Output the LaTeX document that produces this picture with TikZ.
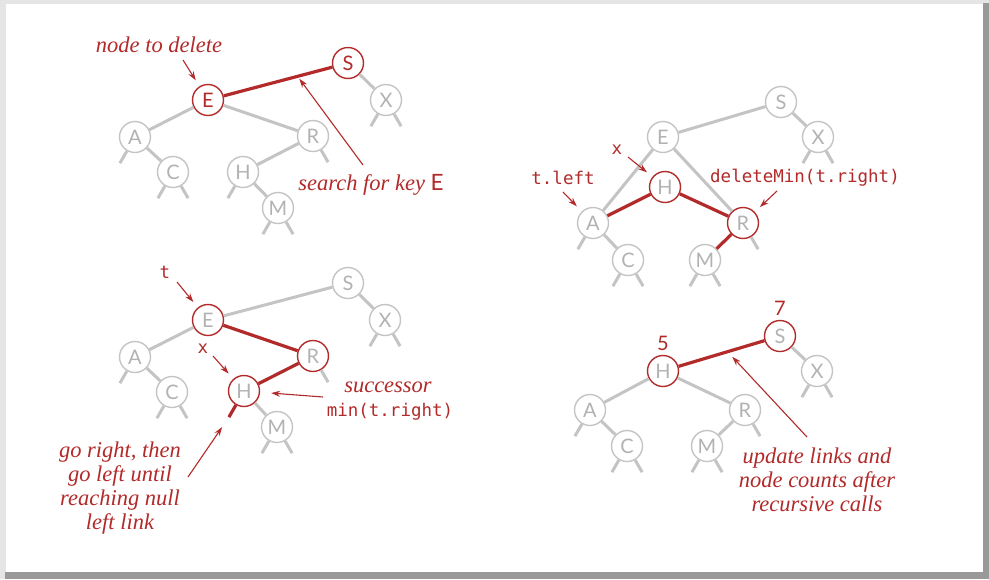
\documentclass[tikz,border=0pt]{standalone}
\usepackage{fontspec}
\setmainfont{Liberation Serif}
\setsansfont{Lato}
\setmonofont{DejaVu Sans Mono}
\usepackage{tikz}
\usetikzlibrary{arrows.meta}
\definecolor{hitred}{RGB}{178,42,42}
\definecolor{linkgray}{RGB}{196,196,196}
\definecolor{keygray}{RGB}{178,178,178}
\newcommand{\nilleft}[2][link]{\draw[#1] (#2.-120) -- ++(-120:14);}
\newcommand{\nilright}[2][link]{\draw[#1] (#2.-60) -- ++(-60:14);}

\begin{document}
\begin{tikzpicture}[x=1pt,y=1pt,
  key/.style={circle,draw=linkgray,line width=1.4pt,fill=white,minimum size=31pt,inner sep=0pt,text=keygray,font=\sffamily\fontsize{20}{20}\selectfont},
  hitkey/.style={key,draw=hitred},
  link/.style={linkgray,line width=3pt},
  hitlink/.style={hitred,line width=3.2pt},
  note/.style={text=hitred,font=\itshape\fontsize{22.5}{24}\selectfont,align=center,inner sep=0pt},
  code/.style={text=hitred,font=\ttfamily\fontsize{17.5}{20}\selectfont,inner sep=0pt},
  count/.style={text=hitred,font=\sffamily\fontsize{20}{20}\selectfont,inner sep=0pt},
  pointer/.style={hitred,line width=1.1pt,-{Stealth[length=9pt,width=6pt]},shorten >=7pt}]

% Frame with shadow
\fill[black!10] (0,0) rectangle (989,-579);
\fill[black!40] (983,-3) rectangle (989,-579);
\fill[black!40] (5,-572) rectangle (989,-579);
\fill[white] (6,-4) rectangle (983,-572);
\useasboundingbox (0,0) rectangle (989,-579);

% === Tree 1: search for the node to delete ===
\foreach \k/\x/\y in {A/135/137,C/173/172,H/243/172,M/278/208,R/313/136,X/386/100}
    \node[key] (t1\k) at (\x,-\y) {\k};
\node[hitkey,text=hitred] (t1E) at (208,-100) {E};
\node[hitkey,text=hitred] (t1S) at (348,-63) {S};
\foreach \a/\b in {E/A,E/R,A/C,R/H,H/M,S/X}
    \draw[link] (t1\a) -- (t1\b);
\draw[hitlink] (t1E) -- (t1S);
\foreach \k in {A,C,H,M,X} \nilleft{t1\k};
\foreach \k in {C,M,R,X} \nilright{t1\k};

\node[note] (del) at (159,-45) {node to delete};
\coordinate (delTail) at (183,-60);
\draw[pointer] (delTail) -- (t1E);
\node[note] (srch) at (371,-185) {search for key \textsf{\upshape E}};
\path (t1E) -- (t1S) coordinate[pos=0.68] (srchHit);
\coordinate (srchTail) at (363,-165);
\draw[pointer,shorten >=3pt] (srchTail) -- (srchHit);

% === Tree 2: t.left and deleteMin(t.right) ===
\foreach \k/\x/\y in {S/781/102,E/663/137,X/818/137,A/593/223,C/628/260,M/705/260}
    \node[key] (t2\k) at (\x,-\y) {\k};
\node[hitkey] (t2H) at (665,-187) {H};
\node[hitkey] (t2R) at (743,-223) {R};
\foreach \a/\b in {S/E,S/X,E/A,E/R,A/C}
    \draw[link] (t2\a) -- (t2\b);
\foreach \a/\b in {H/A,H/R,R/M}
    \draw[hitlink] (t2\a) -- (t2\b);
\foreach \k in {A,C,M,X} \nilleft{t2\k};
\foreach \k in {C,M,R,X} \nilright{t2\k};

\node[code] (x2) at (617,-150) {x};
\coordinate (x2Tail) at (628,-157);
\draw[pointer] (x2Tail) -- (t2H);
\node[code] (tl2) at (563,-178) {t.left};
\coordinate (tl2Tail) at (563,-192);
\draw[pointer] (tl2Tail) -- (t2A);
\node[code] (dm2) at (805,-178) {deleteMin(t.right)};
\coordinate (dm2Tail) at (777,-191);
\draw[pointer] (dm2Tail) -- (t2R);

% === Tree 3: successor of t ===
\foreach \k/\x/\y in {S/348/283,X/385/320,A/135/357,C/172/392,M/277/427}
    \node[key] (t3\k) at (\x,-\y) {\k};
\node[hitkey] (t3E) at (208,-320) {E};
\node[hitkey] (t3R) at (313,-356) {R};
\node[hitkey] (t3H) at (244,-391) {H};
\foreach \a/\b in {S/E,S/X,E/A,A/C,H/M}
    \draw[link] (t3\a) -- (t3\b);
\draw[hitlink] (t3E) -- (t3R);
\draw[hitlink] (t3R) -- (t3H);
\draw[hitlink] (t3H.-120) -- ++(-120:14) coordinate (t3Hnil);
\foreach \k in {A,C,M,X} \nilleft{t3\k};
\foreach \k in {C,M,R,X} \nilright{t3\k};

\node[code] (t3t) at (165,-272) {t};
\coordinate (t3tTail) at (177,-282);
\draw[pointer] (t3tTail) -- (t3E);
\node[code] (x3) at (203,-349) {x};
\coordinate (x3Tail) at (213,-356);
\draw[pointer] (x3Tail) -- (t3H);
\node[note] (succ) at (388,-387) {successor};
\node[code] (mintr) at (390,-412) {min(t.right)};
\coordinate (succTail) at (323,-397);
\draw[pointer,shorten >=11pt] (succTail) -- (t3H);
\node[note] (gor) at (120,-488) {go right, then\\go left until\\reaching null\\left link};
\coordinate (gorTail) at (188,-477);
\draw[pointer,shorten >=12pt] (gorTail) -- (t3Hnil);

% === Tree 4: after the recursive calls ===
\foreach \k/\x/\y in {X/817/371,A/590/410,R/745/410,C/627/446,M/707/446}
    \node[key] (t4\k) at (\x,-\y) {\k};
\node[hitkey] (t4H) at (663,-371) {H};
\node[hitkey] (t4S) at (780,-336) {S};
\foreach \a/\b in {H/A,H/R,A/C,R/M,S/X}
    \draw[link] (t4\a) -- (t4\b);
\draw[hitlink] (t4H) -- (t4S);
\foreach \k in {A,C,M,X} \nilleft{t4\k};
\foreach \k in {C,M,R,X} \nilright{t4\k};

\node[count] (c5) at (663,-343) {5};
\node[count] (c7) at (780,-308) {7};
\node[note] (upd) at (817,-480) {update links and\\node counts after\\recursive calls};
\path (t4H) -- (t4S) coordinate[pos=0.57] (updHit);
\coordinate (updTail) at (807,-437);
\draw[pointer] (updTail) -- (updHit);

\end{tikzpicture}
\end{document}
